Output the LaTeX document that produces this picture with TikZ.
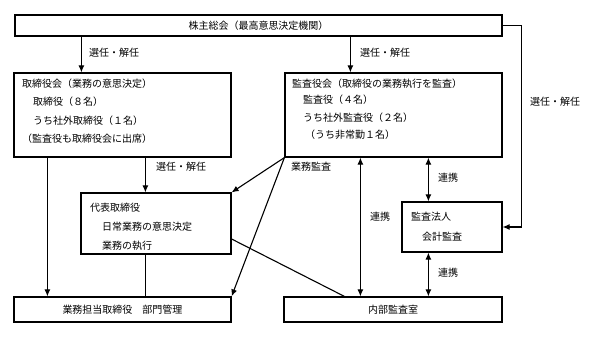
\documentclass[tikz,border=0pt]{standalone}
\usepackage{fontspec}
\setmainfont{Noto Sans CJK JP}
\usetikzlibrary{arrows.meta}
\begin{document}
\begin{tikzpicture}[x=1pt,y=-1pt,font=\fontsize{10pt}{12pt}\selectfont,
    box/.style={draw,line width=1.2pt,inner sep=0pt},
    txt/.style={anchor=west,inner sep=0pt},
    arr/.style={-{Latex[length=7pt,width=6pt]},line width=1.1pt},
    dbl/.style={{Latex[length=7pt,width=6pt]}-{Latex[length=7pt,width=6pt]},line width=1.1pt}]
\useasboundingbox (0,0) rectangle (598,338);
% boxes
\node[box,minimum width=487pt,minimum height=21pt] (kabunushi) at (258.5,25.5) {株主総会（最高意思決定機関）};
\node[box,minimum width=217pt,minimum height=84pt] (torikai) at (122.5,115) {};
\node[box,minimum width=217pt,minimum height=84pt] (kansakai) at (393.5,115) {};
\node[box,minimum width=150pt,minimum height=61pt] (daihyo) at (156,223.5) {};
\node[box,minimum width=100pt,minimum height=50pt] (houjin) at (452,227) {};
\node[box,minimum width=217pt,minimum height=25pt] (gyomu) at (122.5,309.5) {業務担当取締役　部門管理};
\node[box,minimum width=218pt,minimum height=25pt] (naibu) at (393,309.5) {内部監査室};
% texts in boxes
\node[txt] (t1) at (22,84) {取締役会（業務の意思決定）};
\node[txt] (t2) at (33,102) {取締役（８名）};
\node[txt] (t3) at (33,121) {うち社外取締役（１名）};
\node[txt] (t4) at (22,139) {（監査役も取締役会に出席）};
\node[txt] (k1) at (292,84) {監査役会（取締役の業務執行を監査）};
\node[txt] (k2) at (303,100) {監査役（４名）};
\node[txt] (k3) at (303,118) {うち社外監査役（２名）};
\node[txt] (k4) at (305,135) {（うち非常勤１名）};
\node[txt] (d1) at (90,208) {代表取締役};
\node[txt] (d2) at (102,227) {日常業務の意思決定};
\node[txt] (d3) at (102,246) {業務の執行};
\node[txt] (h1) at (411,217) {監査法人};
\node[txt] (h2) at (422,237) {会計監査};
% labels
\node[txt] (sen1) at (89,53) {選任・解任};
\node[txt] (sen2) at (360,53) {選任・解任};
\node[txt] (sen3) at (530,102) {選任・解任};
\node[txt] (sen4) at (156,167) {選任・解任};
\node[txt] (gkansa) at (291,167) {業務監査};
\node[txt] (ren1) at (370,217) {連携};
\node[txt] (ren2) at (438,178) {連携};
\node[txt] (ren3) at (438,273) {連携};
% connectors
\coordinate (c1) at ([xshift=68pt]torikai.north west);
\coordinate (c2) at ([xshift=66pt]kansakai.north west);
\coordinate (c3) at ([xshift=65pt]daihyo.north west);
\coordinate (c4) at ([xshift=34pt]gyomu.north west);
\coordinate (c5) at ([xshift=65pt]daihyo.south west);
\coordinate (c6) at ([xshift=61pt]naibu.north west);
\coordinate (c7) at ([xshift=77pt]naibu.north west);
\coordinate (c8) at ([xshift=27pt]houjin.north west);
\coordinate (c9) at ([xshift=27pt]houjin.south west);
\draw[arr] (c1 |- kabunushi.south) -- (c1);
\draw[arr] (c2 |- kabunushi.south) -- (c2);
\draw[arr] (c3 |- torikai.south) -- (c3);
\draw[arr] (c4 |- torikai.south) -- (c4);
\draw[line width=1.1pt] (c5) -- (c5 |- gyomu.north);
\draw[line width=1.1pt] ([yshift=-15.5pt]daihyo.east) -- (c6);
\draw[arr] (kansakai.south west) -- (daihyo.north east);
\draw[arr] (kansakai.south west) -- (gyomu.north east);
\draw[dbl] (c7) -- (c7 |- kansakai.south);
\draw[dbl] (c8) -- (c8 |- kansakai.south);
\draw[dbl] (c9) -- (c9 |- naibu.north);
\draw[arr] (kabunushi.east) -- ++(19,0) |- (houjin.east);
\end{tikzpicture}
\end{document}
